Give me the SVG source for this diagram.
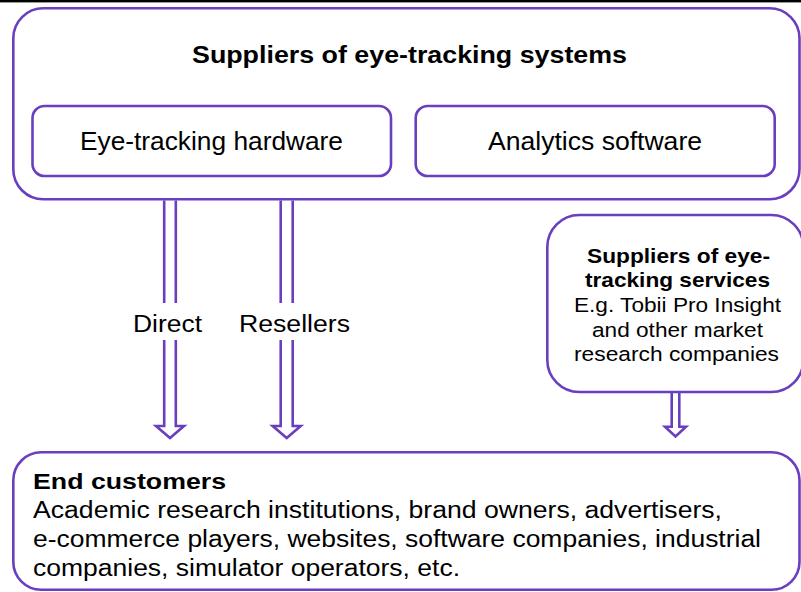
<svg xmlns="http://www.w3.org/2000/svg" width="801" height="592" viewBox="0 0 801 592">
  <style>
    .box { fill: #ffffff; stroke: #6a3fbf; stroke-width: 2.6; }
    .conn { fill: none; stroke: #6a3fbf; stroke-width: 2.6; stroke-linejoin: miter; }
    text { font-family: "Liberation Sans", Arial, sans-serif; fill: #000000; }
    .b { font-weight: bold; }
  </style>
  <rect x="0" y="0" width="801" height="592" fill="#ffffff"/>
  <rect x="0" y="0" width="801" height="2.4" fill="#000000"/>

  <!-- supplier group with its two product boxes -->
  <g id="suppliers-systems">
    <rect class="box" x="13.3" y="8.3" width="786.2" height="191" rx="30" ry="30"/>
    <text class="b" x="192" y="63" font-size="23" textLength="435" lengthAdjust="spacingAndGlyphs">Suppliers of eye-tracking systems</text>
  </g>
  <g id="hardware">
    <rect class="box" x="32.5" y="106" width="358.5" height="70" rx="12" ry="12"/>
    <text x="80" y="150" font-size="25" textLength="263" lengthAdjust="spacingAndGlyphs">Eye-tracking hardware</text>
  </g>
  <g id="software">
    <rect class="box" x="415.7" y="106" width="359" height="70" rx="12" ry="12"/>
    <text x="488" y="150" font-size="25" textLength="214" lengthAdjust="spacingAndGlyphs">Analytics software</text>
  </g>

  <!-- service suppliers -->
  <g id="services">
    <rect class="box" x="547.3" y="215" width="256" height="177" rx="32" ry="32"/>
    <text class="b" x="587" y="263" font-size="21" textLength="183" lengthAdjust="spacingAndGlyphs">Suppliers of eye-</text>
    <text class="b" x="585" y="287" font-size="21" textLength="185" lengthAdjust="spacingAndGlyphs">tracking services</text>
    <text x="574" y="312" font-size="20.5" textLength="207" lengthAdjust="spacingAndGlyphs">E.g. Tobii Pro Insight</text>
    <text x="592" y="336.5" font-size="20.5" textLength="171" lengthAdjust="spacingAndGlyphs">and other market</text>
    <text x="574" y="361" font-size="20.5" textLength="205" lengthAdjust="spacingAndGlyphs">research companies</text>
  </g>

  <!-- customers -->
  <g id="end-customers">
    <rect class="box" x="13.3" y="452.3" width="786.2" height="137.5" rx="28" ry="28"/>
    <text class="b" x="33" y="489" font-size="22" textLength="193" lengthAdjust="spacingAndGlyphs">End customers</text>
    <text x="33" y="518" font-size="23" textLength="689" lengthAdjust="spacingAndGlyphs">Academic research institutions, brand owners, advertisers,</text>
    <text x="33" y="547" font-size="23" textLength="728" lengthAdjust="spacingAndGlyphs">e-commerce players, websites, software companies, industrial</text>
    <text x="33" y="576" font-size="23" textLength="427" lengthAdjust="spacingAndGlyphs">companies, simulator operators, etc.</text>
  </g>

  <!-- hollow block arrows -->
  <g id="connectors">
    <g id="direct">
      <path class="conn" d="M164.2 200.5 V303 M175.8 200.5 V303"/>
      <path class="conn" d="M164.2 340 V426 H156 L170 438 L184 426 H175.8 V340"/>
      <text x="133" y="332" font-size="23" textLength="69" lengthAdjust="spacingAndGlyphs">Direct</text>
    </g>
    <g id="resellers">
      <path class="conn" d="M280.7 200.5 V303 M292.7 200.5 V303"/>
      <path class="conn" d="M280.7 340 V426 H272.7 L286.7 438 L300.7 426 H292.7 V340"/>
      <text x="239" y="332" font-size="23" textLength="111" lengthAdjust="spacingAndGlyphs">Resellers</text>
    </g>
    <g id="services-link">
      <path class="conn" d="M671.7 393 V426.7 H665 L675.5 436.5 L686 426.7 H679.3 V393"/>
    </g>
  </g>
</svg>
